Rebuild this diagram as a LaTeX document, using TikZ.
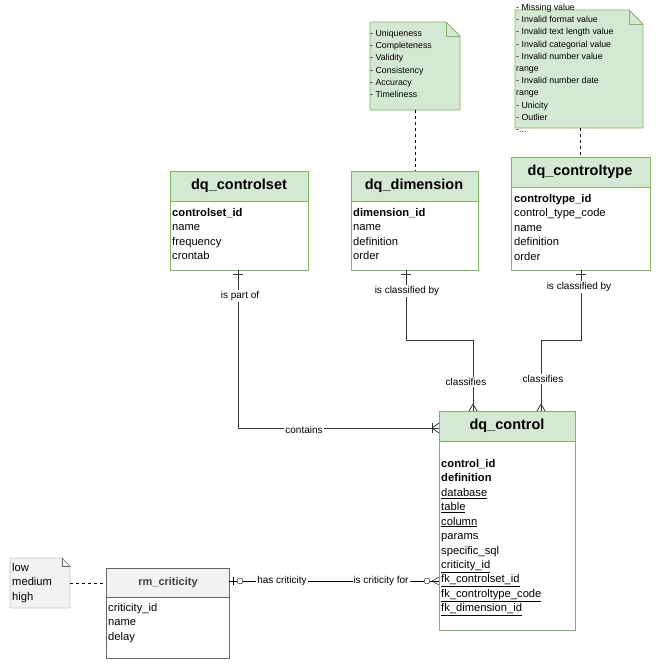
\documentclass[tikz,border=0pt]{standalone}
\usepackage{fontspec}
\setmainfont{Liberation Sans}
\definecolor{gfill}{HTML}{D5E8D4}
\definecolor{gline}{HTML}{82B366}
\begin{document}
\begin{tikzpicture}[x=1pt,y=-1pt,
  hdr/.style={draw=gline,fill=gfill,line width=0.8pt},
  gbody/.style={draw=gline,fill=white,line width=0.8pt},
  ttl/.style={font=\fontsize{14.5}{16}\selectfont\bfseries},
  fld/.style={anchor=north west,align=left,inner sep=0pt,font=\fontsize{11.2}{14.45}\selectfont},
  nt/.style={anchor=north west,align=left,inner sep=0pt,font=\fontsize{8.8}{12.2}\selectfont},
  conn/.style={line width=0.8pt,black!80},
  lbl/.style={fill=white,inner sep=1pt,font=\fontsize{10}{11}\selectfont},
  dsh/.style={dashed,line width=0.6pt}]
\useasboundingbox (0,0) rectangle (661,669);
% notes
\filldraw[hdr] (370,22) -- (446,22) -- (460,36) -- (460,110) -- (370,110) -- cycle;
\draw[hdr,fill=none] (446,22) -- (446,36) -- (460,36);
\node[nt] (n1) at (370,30) {- Uniqueness\\- Completeness\\- Validity\\- Consistency\\- Accuracy\\- Timeliness};
\filldraw[hdr] (515,10) -- (629,10) -- (643,24) -- (643,128) -- (515,128) -- cycle;
\draw[hdr,fill=none] (629,10) -- (629,24) -- (643,24);
\node[nt] (n2) at (516,4) {- Missing value\\- Invalid format value\\- Invalid text length value\\- Invalid categorial value\\- Invalid number value\\range\\- Invalid number date\\range\\- Unicity\\- Outlier\\-...};
\filldraw[draw=black!60,fill=black!5] (10,558) -- (62,558) -- (70,566) -- (70,608) -- (10,608) -- cycle;
\draw[black!60] (62,558) -- (62,566) -- (70,566);
\node[anchor=north west,align=left,inner sep=0pt,font=\fontsize{11.2}{14.45}\selectfont] (n3) at (12,563) {low\\medium\\high};
% tables
\draw[gbody] (170,201) rectangle (308,270);
\draw[hdr] (170,171) rectangle (308,201);
\node[ttl] (cs) at (239,186) {dq\_controlset};
\node[fld] (csf) at (172,208) {\textbf{controlset\_id}\\name\\frequency\\crontab};
\draw[gbody] (351,201) rectangle (478,270);
\draw[hdr] (351,171) rectangle (478,201);
\node[ttl] (dm) at (414,186) {dq\_dimension};
\node[fld] (dmf) at (353,208) {\textbf{dimension\_id}\\name\\definition\\order};
\draw[gbody] (511,187) rectangle (650,270);
\draw[hdr] (511,157) rectangle (650,187);
\node[ttl] (ct) at (580,172) {dq\_controltype};
\node[fld] (ctf) at (514,194) {\textbf{controltype\_id}\\control\_type\_code\\name\\definition\\order};
\draw[gbody] (439,441) rectangle (575,630);
\draw[hdr] (439,411) rectangle (575,441);
\node[ttl] (dc) at (507,426) {dq\_control};
\node[fld] (dcf) at (441,459) {\textbf{control\_id}\\\textbf{definition}\\\underline{database}\\\underline{table}\\\underline{column}\\params\\specific\_sql\\\underline{criticity\_id}\\\underline{fk\_controlset\_id}\\\underline{fk\_controltype\_code}\\\underline{fk\_dimension\_id}};
\draw[draw=black!60,fill=white] (106,597) rectangle (229,658);
\draw[draw=black!60,fill=black!5] (106,568) rectangle (229,597);
\node[font=\fontsize{11}{12}\selectfont\bfseries,text=black!75] (rc) at (168,583) {rm\_criticity};
\node[fld] (rcf) at (108,603) {criticity\_id\\name\\delay};
% dashed links
\coordinate (a1) at (415,110); \coordinate (a2) at (415,171);
\draw[dsh] (a1) -- (a2);
\coordinate (b1) at (580,128); \coordinate (b2) at (580,157);
\draw[dsh] (b1) -- (b2);
\coordinate (c1) at (70,583); \coordinate (c2) at (106,583);
\draw[dsh] (c1) -- (c2);
% connectors
\coordinate (p1) at (238,270); \coordinate (p2) at (439,428);
\draw[conn] (p1) |- (p2);
\draw[conn] (233,274) -- (243,274);
\draw[conn] (432,423) -- (432,433); \draw[conn] (432,428) -- (439,423); \draw[conn] (432,428) -- (439,433);
\node[lbl] (l1) at (240,296) {is part of};
\node[lbl] (l2) at (304,430) {contains};
\coordinate (q1) at (406,270); \coordinate (q2) at (473,411);
\draw[conn] (q1) -- (406,340) -- (473,340) -- (q2);
\draw[conn] (401,274) -- (411,274);
\draw[conn] (473,404) -- (469,411); \draw[conn] (473,404) -- (477,411);
\node[lbl] (l3) at (407,291) {is classified by};
\node[lbl] (l4) at (466,382) {classifies};
\coordinate (r1) at (581,270); \coordinate (r2) at (541,411);
\draw[conn] (r1) -- (581,340) -- (541,340) -- (r2);
\draw[conn] (576,274) -- (586,274);
\draw[conn] (541,404) -- (537,411); \draw[conn] (541,404) -- (545,411);
\node[lbl] (l5) at (579,287) {is classified by};
\node[lbl] (l6) at (543,379) {classifies};
\coordinate (s1) at (229,581); \coordinate (s2) at (439,581);
\draw[conn,black] (s1) -- (s2);
\draw[black] (233,577) -- (233,585);
\filldraw[black,fill=white] (240,581) circle (3);
\filldraw[black,fill=white] (427,581) circle (3);
\draw[black] (432,581) -- (439,577); \draw[black] (432,581) -- (439,585);
\node[lbl] (l7) at (282,581) {has criticity};
\node[lbl] (l8) at (381,581) {is criticity for};
\end{tikzpicture}
\end{document}
